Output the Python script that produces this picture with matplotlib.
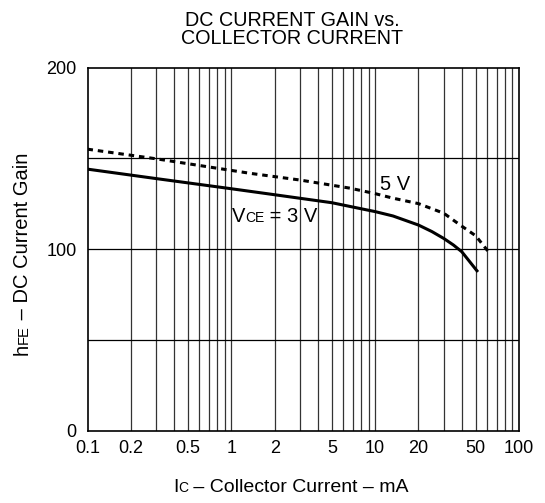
import numpy as np
import matplotlib
matplotlib.use('Agg')
import matplotlib.pyplot as plt
import matplotlib.transforms as mtransforms
from matplotlib.ticker import FixedLocator, NullLocator, NullFormatter

plt.rcParams['font.family'] = ['Liberation Sans', 'DejaVu Sans']

# data
ic_3v = [0.1, 0.3, 1, 2, 5, 7.85, 10, 13.3, 20, 24.8, 30, 35, 40, 44.4, 51]
hfe_3v = [144, 138.8, 133.2, 129.9, 125.5, 122.3, 120.6, 118.2, 113.2, 109.6, 105.8, 102.2, 98.5, 94, 88]
ic_5v = [0.1, 0.3, 1.35, 3, 6.7, 10, 13.3, 20, 30, 39, 50, 61]
hfe_5v = [155, 149.7, 141.7, 138, 133.5, 130.5, 128, 125, 119.7, 113.2, 107.3, 98.7]

x_ticks = [0.1, 0.2, 0.5, 1, 2, 5, 10, 20, 50, 100]
x_labels = ['0.1', '0.2', '0.5', '1', '2', '5', '10', '20', '50', '100']
y_ticks = [0, 100, 200]

fig = plt.figure(figsize=(5.45, 5.03), dpi=100)
ax = fig.add_axes([87.5 / 545, 1 - 430.5 / 503, 431.5 / 545, 363 / 503])
renderer = fig.canvas.get_renderer()


def rich_text(x, y, pieces, transform, rotation=0):
    # pieces: list of (text, fontsize); drawn one after another on one baseline, centred
    texts, widths = [], []
    for s, size in pieces:
        t = fig.text(0, 0, s, fontsize=size, ha='left', va='baseline',
                     rotation=rotation, rotation_mode='anchor')
        bb = t.get_window_extent(renderer)
        w = bb.height if rotation == 90 else bb.width
        texts.append(t)
        widths.append(w)
    total = sum(widths)
    pos = -total / 2
    for t, w in zip(texts, widths):
        if rotation == 90:
            tr = mtransforms.offset_copy(transform, fig=fig, x=0, y=pos, units='dots')
        else:
            tr = mtransforms.offset_copy(transform, fig=fig, x=pos, y=0, units='dots')
        t.set_transform(tr)
        t.set_position((x, y))
        pos += w
    return texts


ax.set_xscale('log')
ax.set_xlim(0.1, 100)
ax.set_ylim(0, 200)

# grid: every integer multiple within each decade
vlines = [m * 10.0 ** d for d in (-1, 0, 1) for m in range(1, 10)][1:]
for v in vlines:
    ax.axvline(v, color='#333333', lw=0.9, zorder=1)
for h in (50, 100, 150):
    ax.axhline(h, color='black', lw=0.9, zorder=1)

ax.plot(ic_3v, hfe_3v, color='black', lw=2.2, zorder=3, solid_joinstyle='round')
ax.plot(ic_5v, hfe_5v, color='black', lw=2.2, ls=(0, (1.8, 1.6)), zorder=3)

ax.xaxis.set_major_locator(FixedLocator(x_ticks))
ax.set_xticklabels(x_labels)
ax.xaxis.set_minor_locator(NullLocator())
ax.xaxis.set_minor_formatter(NullFormatter())
ax.set_yticks(y_ticks)
ax.tick_params(length=0, labelsize=13, colors='black')
ax.tick_params(axis='x', pad=7)
ax.tick_params(axis='y', pad=8)

for s in ax.spines.values():
    s.set_linewidth(1.2)

# curve labels (data coords)
ax.text(13.8, 135.8, '5 V', fontsize=14.5, ha='center', va='center', zorder=4)
rich_text(2.0, 115, [('V', 14.5), ('CE', 10), (' = 3 V', 14.5)], ax.transData)

# axis labels (figure pixel positions measured on the reference)
fig_px = mtransforms.Affine2D().scale(1 / 545, 1 / 503) + fig.transFigure
rich_text(291, 503 - 492, [('I', 14), ('C', 10), (' – Collector Current – mA', 14)], fig_px)
rich_text(28, 503 - 254, [('h', 14.5), ('FE', 10.5), (' – DC Current Gain', 14.5)], fig_px, rotation=90)

fig.text(292 / 545, 1 - 29.5 / 503, 'DC CURRENT GAIN vs.\nCOLLECTOR CURRENT',
         ha='center', va='center', fontsize=14.2, linespacing=0.95)

plt.savefig('out.png', dpi=100)
